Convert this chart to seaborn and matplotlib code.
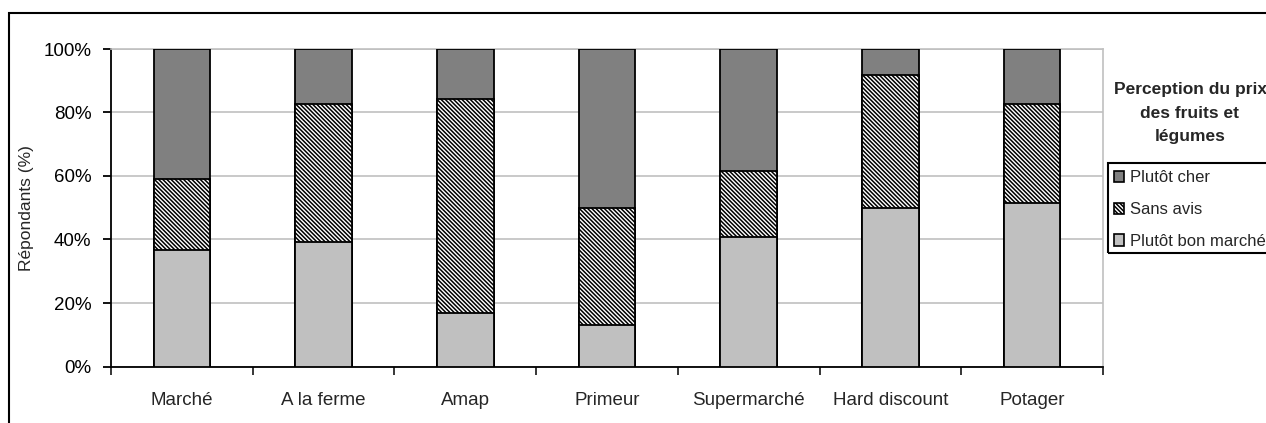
import numpy as np
import pandas as pd
import matplotlib
matplotlib.use("Agg")
import matplotlib.pyplot as plt
from matplotlib.patches import Patch, Rectangle
import seaborn as sns

# Survey results: share of respondents (%) per place of purchase
categories = ["Marché", "A la ferme", "Amap", "Primeur", "Supermarché", "Hard discount", "Potager"]
bon_marche = [36.7, 39.3, 16.9, 13.1, 40.8, 49.8, 51.4]
sans_avis = [22.4, 43.4, 67.3, 36.7, 20.7, 42.0, 31.3]
cher = [40.9, 17.3, 15.8, 50.2, 38.5, 8.2, 17.3]
series_labels = ["Plutôt cher", "Sans avis", "Plutôt bon marché"]
y_ticks = [0, 20, 40, 60, 80, 100]
y_label = "Répondants (%)"
legend_title = "Perception du prix\ndes fruits et\nlégumes"

sns.set_style("white")
plt.rcParams["font.family"] = ["Liberation Sans", "DejaVu Sans"]
plt.rcParams["hatch.linewidth"] = 1.1

DARK = "#808080"
LIGHT = "#c0c0c0"
HATCH = "\\" * 8

df = pd.DataFrame({"categorie": categories, "bon": bon_marche, "sans": sans_avis, "cher": cher})
df["top_sans"] = df["bon"] + df["sans"]
df["top_cher"] = df["top_sans"] + df["cher"]

W, H = 1266, 423
fig = plt.figure(figsize=(W / 100, H / 100), dpi=100)
ax = fig.add_axes([111 / W, 1 - 366.5 / H, 992 / W, 317.5 / H])

# Stacked bars: draw cumulative totals from the top layer down
layers = [("top_cher", DARK, None), ("top_sans", "white", HATCH), ("bon", LIGHT, None)]
for col, color, hatch in layers:
    sns.barplot(data=df, x="categorie", y=col, color=color, saturation=1,
                width=0.4, edgecolor="black", linewidth=1.3, hatch=hatch,
                errorbar=None, ax=ax, zorder=3)

ax.set_axisbelow(True)
ax.set_xlim(-0.5, len(categories) - 0.5)
ax.set_ylim(0, 100)
ax.set_xlabel("")
ax.set_ylabel("")

ax.set_yticks(y_ticks)
ax.set_yticklabels([f"{v}%" for v in y_ticks])
ax.yaxis.grid(True, color=LIGHT, lw=1.2)
ax.tick_params(axis="y", left=True, length=6, width=1.3, direction="out",
               pad=8, labelsize=13.5, colors="black")

ax.set_xticks(range(len(categories)))
ax.set_xticklabels(categories)
ax.set_xticks(np.arange(-0.5, len(categories), 1), minor=True)
ax.tick_params(axis="x", which="major", bottom=False, length=0, pad=18, labelsize=13.5)
ax.tick_params(axis="x", which="minor", bottom=True, length=6, width=1.3, direction="out")

for side in ("left", "bottom"):
    ax.spines[side].set_color("black")
    ax.spines[side].set_linewidth(1.3)
for side in ("top", "right"):
    ax.spines[side].set_color(LIGHT)
    ax.spines[side].set_linewidth(1.2)

fig.text(27 / W, 1 - 208 / H, y_label, rotation=90, ha="center", va="center", fontsize=12.5)

# Legend
fig.text(1190 / W, 1 - 113 / H, legend_title, ha="center", va="center",
         fontsize=12.5, fontweight="bold", linespacing=1.7)
handles = [
    Patch(facecolor=DARK, edgecolor="black", lw=1.2, label=series_labels[0]),
    Patch(facecolor="white", edgecolor="black", lw=1.2, hatch=HATCH, label=series_labels[1]),
    Patch(facecolor=LIGHT, edgecolor="black", lw=1.2, label=series_labels[2]),
]
fig.legend(handles=handles, loc="upper left", bbox_to_anchor=(1106 / W, 1 - 163 / H),
           frameon=False, fontsize=12, handlelength=0.65, handleheight=0.65,
           handletextpad=0.35, labelspacing=1.0, borderpad=0.45, borderaxespad=0)
fig.add_artist(Rectangle((1108 / W, 1 - 253 / H), 0.2, 90 / H, transform=fig.transFigure,
                         fill=False, edgecolor="black", lw=1.5, clip_on=False))

# Outer frame of the chart
fig.add_artist(Rectangle((9 / W, -0.5), 2, 0.5 + (1 - 13 / H), transform=fig.transFigure,
                         fill=False, edgecolor="black", lw=1.5, clip_on=False))

fig.savefig("out.png", dpi=100)
